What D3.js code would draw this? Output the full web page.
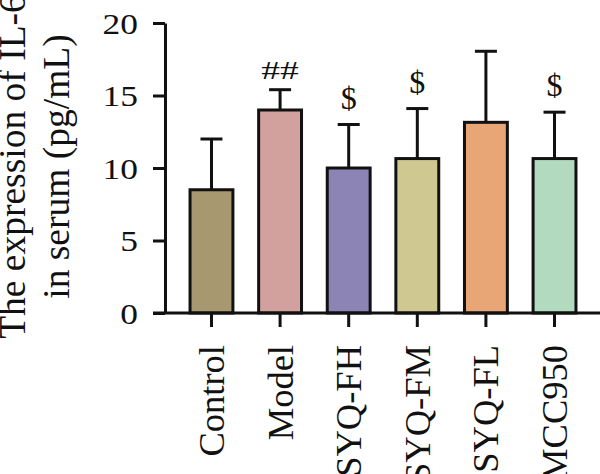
<!DOCTYPE html>
<html>
<head>
<meta charset="utf-8">
<script src="https://cdn.jsdelivr.net/npm/d3@7"></script>
<style>
  body { margin: 0; background: #fff; }
  text { font-family: "Liberation Serif", "Times New Roman", serif; fill: #111; }
</style>
</head>
<body>
<div id="chart"></div>
<script>
// groups and values
const groups = ["Control", "Model", "SYQ-FH", "SYQ-FM", "SYQ-FL", "MCC950"];
const means = [8.5, 14.0, 10.0, 10.65, 13.15, 10.65];
const sds = [3.5, 1.4, 3.0, 3.45, 4.9, 3.2];
const marks = ["", "##", "$", "$", "", "$"];
const colors = ["#a89870", "#d3a19d", "#8b84b5", "#cfc890", "#e8a576", "#b2dabf"];
const yTicks = [0, 5, 10, 15, 20];

const W = 600, H = 474;
const margin = {top: 23, right: 0, bottom: 161, left: 165};
const width = W - margin.left - margin.right,
    height = H - margin.top - margin.bottom;

const svg = d3.select("#chart").append("svg")
    .attr("width", W)
    .attr("height", H)
    .append("g")
    .attr("transform", "translate(" + margin.left + "," + margin.top + ")");

const y = d3.scaleLinear().domain([0, 20]).range([height, 0]);
const x = d3.scaleBand().domain(groups)
    .range([12, 424])
    .paddingInner(0.375)
    .paddingOuter(0.19);

// stretch a text horizontally (the figure's font is wider than Times)
function widen(sel, k) {
    sel.each(function() {
        const w = this.getComputedTextLength();
        d3.select(this).attr("textLength", w * k).attr("lengthAdjust", "spacingAndGlyphs");
    });
}

// y axis
const yAxis = svg.append("g")
    .call(d3.axisLeft(y).tickValues(yTicks).tickSize(12).tickPadding(15).tickSizeOuter(0));
yAxis.select(".domain").attr("stroke", "#111").attr("stroke-width", 3);
yAxis.selectAll(".tick line").attr("stroke", "#111").attr("stroke-width", 3);
yAxis.selectAll(".tick text")
    .style("font-size", "29.5px")
    .style("font-family", "Liberation Serif, serif")
    .attr("fill", "#111")
    .attr("dy", "0.34em")
    .call(widen, 1.2);

// bars
svg.selectAll(".bar").data(groups).enter().append("rect")
    .attr("class", "bar")
    .attr("x", d => x(d))
    .attr("width", x.bandwidth())
    .attr("y", (d, i) => y(means[i]))
    .attr("height", (d, i) => y(0) - y(means[i]))
    .attr("fill", (d, i) => colors[i])
    .attr("stroke", "#111")
    .attr("stroke-width", 3);

// error bars (upper only)
const eb = svg.selectAll(".err").data(groups).enter().append("g").attr("class", "err");
eb.append("line")
    .attr("x1", d => x(d) + x.bandwidth() / 2)
    .attr("x2", d => x(d) + x.bandwidth() / 2)
    .attr("y1", (d, i) => y(means[i]))
    .attr("y2", (d, i) => y(means[i] + sds[i]))
    .attr("stroke", "#111").attr("stroke-width", 3);
eb.append("line")
    .attr("x1", d => x(d) + x.bandwidth() / 2 - 11)
    .attr("x2", d => x(d) + x.bandwidth() / 2 + 11)
    .attr("y1", (d, i) => y(means[i] + sds[i]))
    .attr("y2", (d, i) => y(means[i] + sds[i]))
    .attr("stroke", "#111").attr("stroke-width", 3);

// significance marks
svg.selectAll(".sig").data(groups).enter().append("text")
    .attr("class", "sig")
    .attr("x", d => x(d) + x.bandwidth() / 2)
    .attr("y", (d, i) => y(means[i] + sds[i]) - (marks[i] === "##" ? 11 : 16))
    .attr("text-anchor", "middle")
    .style("font-size", (d, i) => marks[i] === "##" ? "25px" : "32px")
    .text((d, i) => marks[i])
    .filter((d, i) => marks[i] === "##")
    .call(widen, 1.5);

// x axis
const xAxis = svg.append("g")
    .attr("transform", "translate(0," + height + ")")
    .call(d3.axisBottom(x).tickSize(14).tickSizeOuter(0));
xAxis.select(".domain").attr("d", "M-12,0H" + width).attr("stroke", "#111").attr("stroke-width", 3);
xAxis.selectAll(".tick line").attr("stroke", "#111").attr("stroke-width", 3);
xAxis.selectAll(".tick text")
    .style("font-size", "36.5px")
    .style("font-family", "Liberation Serif, serif")
    .attr("fill", "#111")
    .attr("text-anchor", "end")
    .attr("transform", "rotate(-90)")
    .attr("x", -32)
    .attr("y", 0)
    .attr("dy", "0.34em");

// y axis title
const yt = svg.append("text")
    .attr("transform", "translate(" + (25 - margin.left) + "," + (166.5 - margin.top) + ") rotate(-90)")
    .attr("text-anchor", "middle")
    .style("font-size", "37.5px");
yt.append("tspan").attr("x", 0).attr("dy", "0").text("The expression of IL-6");
yt.append("tspan").attr("x", 0).attr("dy", "44px").text("in serum (pg/mL)");
</script>
</body>
</html>
